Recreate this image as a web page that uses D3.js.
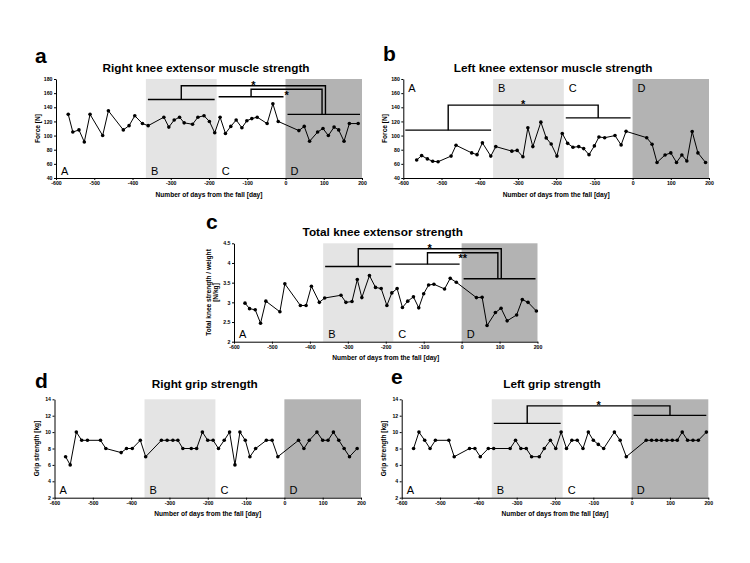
<!DOCTYPE html>
<html>
<head>
<meta charset="utf-8">
<script src="https://cdn.jsdelivr.net/npm/d3@7"></script>
<style>
  body { margin: 0; background: #fff; }
</style>
</head>
<body>
<svg id="fig" width="750" height="563"></svg>
<script>
const FONT = "'Liberation Sans', Arial, Helvetica, sans-serif";

// shared x axis / study periods
const xTickValues = [-600, -500, -400, -300, -200, -100, 0, 100, 200];
const periodLabels = ["A", "B", "C", "D"];
const periodBounds = [-600, -365, -180, 0, 200];

// a: right knee extensor muscle strength [N]
const rightKneeDays = [-568,-556,-540,-526,-511,-478,-463,-424,-409,-394,-374,-359,-318,-305,-291,-277,-265,-243,-229,-213,-199,-185,-171,-157,-143,-129,-114,-101,-88,-74,-48,-33,-19,35,49,63,84,98,112,127,139,153,167,190];
const rightKneeForce = [130,105,108,91,130,100,135,108,114,128,117,114,126,112,122,126,118,116,126,128,120,104,126,103,113,122,111,121,124,126,117,145,120,107,113,92,105,110,100,112,108,92,117,117];
const rightKneeTicks = [40, 60, 80, 100, 120, 140, 160, 180];
const rightKneeGroups = [{period: "B", level: 151}, {period: "C", level: 155}, {period: "D", level: 130}];
const rightKneeBrackets = [{from: "B", to: "D", level: 170.5, mark: "*"}, {from: "C", to: "D", level: 165.4, mark: "*"}];

// b: left knee extensor muscle strength [N]
const leftKneeDays = [-565,-552,-537,-523,-509,-475,-462,-421,-407,-393,-371,-358,-316,-302,-287,-274,-261,-240,-226,-213,-198,-184,-170,-156,-141,-128,-114,-100,-88,-73,-46,-30,-17,37,51,64,85,100,115,129,142,156,171,191];
const leftKneeForce = [65.5,71.7,67,63.6,63,71,86.3,75.5,73,89.7,71,84.4,78,79,70,111,84.4,119,96.7,88,71,103,89,83.5,84.4,81.6,73,85.4,98,97,100,86.8,106,97,87.8,62,72.6,75.5,62,72.6,64,105.7,75.5,62];
const leftKneeTicks = [40, 60, 80, 100, 120, 140, 160, 180];
const leftKneeGroups = [{period: "A", level: 107.7}, {period: "C", level: 125}];
const leftKneeBrackets = [{from: "A", to: "C", level: 143, mark: "*"}];

// c: total knee extensor strength / weight [N/kg]
const totalKneeDays = [-571,-559,-544,-530,-516,-479,-466,-425,-410,-396,-375,-361,-318,-305,-289,-275,-263,-243,-227,-212,-197,-184,-170,-156,-142,-127,-113,-100,-87,-73,-45,-30,-14,39,54,67,89,104,120,145,160,175,197];
const totalKneeRatio = [2.98,2.84,2.81,2.47,3.03,2.76,3.47,2.92,2.92,3.41,3.0,3.11,3.18,3.0,3.02,3.58,3.12,3.68,3.38,3.35,2.92,3.24,3.35,2.87,3.03,3.14,2.86,3.22,3.44,3.46,3.34,3.61,3.51,3.12,3.13,2.41,2.74,2.85,2.53,2.68,3.07,3.0,2.78];
const totalKneeTicks = [2, 2.5, 3, 3.5, 4, 4.5];
const totalKneeGroups = [{period: "B", level: 3.91}, {period: "C", level: 3.97}, {period: "D", level: 3.6}];
const totalKneeBrackets = [{from: "B", to: "D", level: 4.36, mark: "*"}, {from: "C", to: "D", level: 4.26, mark: "**"}];

// d: right grip strength [kg]
const rightGripDays = [-571,-559,-543,-529,-514,-480,-466,-426,-412,-397,-376,-362,-321,-306,-291,-278,-265,-243,-229,-214,-200,-186,-172,-157,-143,-129,-116,-102,-90,-75,-47,-32,-17,37,51,65,85,100,114,128,142,156,170,190];
const rightGripKg = [7,6,10,9,9,9,8,7.5,8,8,9,7,9,9,9,9,8,8,8,10,9,9,8,9,10,6,10,9,7,8,9,9,7,9,8,9,10,9,9,10,9,8,7,8];
const gripTicks = [2, 4, 6, 8, 10, 12, 14];

// e: left grip strength [kg]
const leftGripDays = [-569,-555,-540,-526,-512,-477,-463,-423,-409,-395,-374,-360,-317,-303,-289,-275,-261,-241,-228,-212,-198,-184,-170,-156,-142,-127,-113,-100,-87,-73,-45,-30,-14,38,52,65,78,92,106,119,132,146,160,174,195];
const leftGripKg = [8,10,9,8,9,9,7,8,8,7,8,8,8,9,8,8,7,7,8,9,8,10,8,9,9,8,10,9,8.5,8,10,9,7,9,9,9,9,9,9,9,10,9,9,9,10];
const leftGripGroups = [{period: "B", level: 11.07}, {period: "D", level: 12.04}];
const leftGripBrackets = [{from: "B", to: "D", level: 13.2, mark: "*"}];

const shadeFill = {B: "#e4e4e4", D: "#b3b3b3"};

const svg = d3.select("#fig");
svg.append("rect").attr("width", 750).attr("height", 563).attr("fill", "#fff");

function drawPanel(p) {
  const b = p.box;
  const x = d3.scaleLinear().domain([periodBounds[0], periodBounds[4]]).range([b.x0, b.x1]);
  const y = d3.scaleLinear().domain([p.yTicks[0], p.yTicks[p.yTicks.length - 1]]).range([b.y1, b.y0]);
  const g = svg.append("g");
  const periods = periodLabels.map((name, i) => ({name, start: periodBounds[i], end: periodBounds[i + 1]}));

  g.selectAll(".shade")
    .data(periods.filter(d => shadeFill[d.name]))
    .enter().append("rect")
      .attr("x", d => x(d.start))
      .attr("width", d => x(d.end) - x(d.start))
      .attr("y", b.y0)
      .attr("height", b.y1 - b.y0)
      .attr("fill", d => shadeFill[d.name]);

  g.append("g")
    .attr("transform", `translate(0,${b.y1})`)
    .call(d3.axisBottom(x).tickValues(xTickValues).tickSize(2).tickSizeOuter(0).tickPadding(1.5).tickFormat(d => String(d)))
    .attr("font-family", FONT).attr("font-size", 5.2).attr("font-weight", "bold");

  g.append("g")
    .attr("transform", `translate(${b.x0},0)`)
    .call(d3.axisLeft(y).tickValues(p.yTicks).tickSize(2).tickSizeOuter(0).tickPadding(1.5).tickFormat(d => String(d)))
    .attr("font-family", FONT).attr("font-size", 5.2).attr("font-weight", "bold");

  g.selectAll(".plabel")
    .data(periods)
    .enter().append("text")
      .attr("x", d => x(d.start) + 5)
      .attr("y", p.labelsTop ? b.y0 + 12.5 : b.y1 - 3.5)
      .attr("font-family", FONT).attr("font-size", 11)
      .text(d => d.name);

  // significance groups and brackets
  const spans = {};
  (p.groups || []).forEach(gr => {
    const i = periodLabels.indexOf(gr.period);
    const xa = x(periodBounds[i]) + 2, xb = x(periodBounds[i + 1]) - 2;
    spans[gr.period] = {xa, xb, mid: (xa + xb) / 2, y: y(gr.level)};
  });
  g.selectAll(".grp")
    .data(p.groups || [])
    .enter().append("line")
      .attr("x1", d => spans[d.period].xa)
      .attr("x2", d => spans[d.period].xb)
      .attr("y1", d => spans[d.period].y)
      .attr("y2", d => spans[d.period].y)
      .attr("stroke", "#000").attr("stroke-width", 1.4);
  (p.brackets || []).forEach(br => {
    const same = p.brackets.filter(o => o.to === br.to);
    const k = same.indexOf(br);
    const shift = (same.length - 1) / 2 * 3.4 - k * 3.4;
    const fx = spans[br.from].mid, tx = spans[br.to].mid + shift, top = y(br.level);
    g.append("path")
      .attr("d", `M${fx},${spans[br.from].y}V${top}H${tx}V${spans[br.to].y}`)
      .attr("fill", "none").attr("stroke", "#000").attr("stroke-width", 1.4);
    g.append("text")
      .attr("x", (fx + tx) / 2)
      .attr("y", k === 0 ? top + 3 : top + 9.4)
      .attr("text-anchor", "middle")
      .attr("font-family", FONT).attr("font-size", 11).attr("font-weight", "bold")
      .text(br.mark);
  });

  const pts = p.days.map((d, i) => ({day: d, v: p.values[i]}));
  g.append("path")
    .datum(pts)
    .attr("fill", "none").attr("stroke", "#000").attr("stroke-width", 1)
    .attr("d", d3.line().x(d => x(d.day)).y(d => y(d.v)));
  g.selectAll(".pt")
    .data(pts)
    .enter().append("circle")
      .attr("cx", d => x(d.day)).attr("cy", d => y(d.v)).attr("r", 1.8)
      .attr("fill", "#000");

  const cx = (b.x0 + b.x1) / 2, cy = (b.y0 + b.y1) / 2;
  g.append("text")
    .attr("x", cx - 3).attr("y", b.titleY)
    .attr("text-anchor", "middle")
    .attr("font-family", FONT).attr("font-size", 11.8).attr("font-weight", "bold")
    .text(p.title);
  g.append("text")
    .attr("x", b.letter[0]).attr("y", b.letter[1])
    .attr("font-family", FONT).attr("font-size", 21).attr("font-weight", "bold")
    .text(p.letter);
  g.append("text")
    .attr("x", cx).attr("y", b.y1 + 18.5)
    .attr("text-anchor", "middle")
    .attr("font-family", FONT).attr("font-size", 6.6).attr("font-weight", "bold")
    .text("Number of days from the fall [day]");
  const yl = g.append("text")
    .attr("transform", `translate(${b.x0 - 16 - (p.yLabel.length - 1) * 7.3},${cy}) rotate(-90)`)
    .attr("text-anchor", "middle")
    .attr("font-family", FONT).attr("font-size", 6.6).attr("font-weight", "bold");
  p.yLabel.forEach((line, i) => {
    yl.append("tspan").attr("x", 0).attr("dy", i === 0 ? 0 : 7.3).text(line);
  });
}

drawPanel({
  letter: "a", title: "Right knee extensor muscle strength", yLabel: ["Force [N]"],
  days: rightKneeDays, values: rightKneeForce, yTicks: rightKneeTicks,
  groups: rightKneeGroups, brackets: rightKneeBrackets,
  box: {x0: 56, x1: 362, y0: 79, y1: 178, letter: [35, 63], titleY: 72}, labelsTop: false
});
drawPanel({
  letter: "b", title: "Left knee extensor muscle strength", yLabel: ["Force [N]"],
  days: leftKneeDays, values: leftKneeForce, yTicks: leftKneeTicks,
  groups: leftKneeGroups, brackets: leftKneeBrackets,
  box: {x0: 403.3, x1: 709, y0: 79, y1: 178, letter: [383, 61], titleY: 72}, labelsTop: true
});
drawPanel({
  letter: "c", title: "Total knee extensor strength", yLabel: ["Total knee strength / weight", "[N/kg]"],
  days: totalKneeDays, values: totalKneeRatio, yTicks: totalKneeTicks,
  groups: totalKneeGroups, brackets: totalKneeBrackets,
  box: {x0: 234, x1: 537.5, y0: 243.3, y1: 341.7, letter: [206, 229], titleY: 236}, labelsTop: false
});
drawPanel({
  letter: "d", title: "Right grip strength", yLabel: ["Grip strength [kg]"],
  days: rightGripDays, values: rightGripKg, yTicks: gripTicks,
  groups: [], brackets: [],
  box: {x0: 54.5, x1: 361, y0: 399.3, y1: 497.7, letter: [35, 388], titleY: 388}, labelsTop: false
});
drawPanel({
  letter: "e", title: "Left grip strength", yLabel: ["Grip strength [kg]"],
  days: leftGripDays, values: leftGripKg, yTicks: gripTicks,
  groups: leftGripGroups, brackets: leftGripBrackets,
  box: {x0: 401.7, x1: 708.3, y0: 399.3, y1: 497.7, letter: [391, 384], titleY: 388}, labelsTop: false
});
</script>
</body>
</html>
